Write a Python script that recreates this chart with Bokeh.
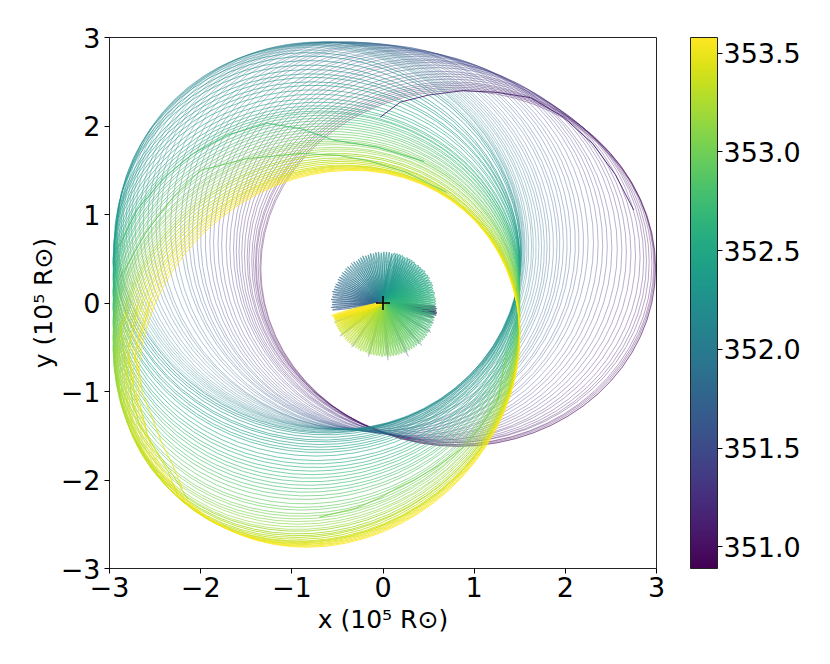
from bokeh.plotting import figure
from bokeh.models import ColumnDataSource, LinearColorMapper, ColorBar, FixedTicker, PrintfTickFormatter
from bokeh.palettes import Viridis256
from bokeh.embed import file_html
from bokeh.resources import INLINE
import math

times = [350.90,350.93,350.96,350.99,351.02,351.05,351.08,351.11,351.14,351.17,
         351.20,351.23,351.26,351.29,351.32,351.35,351.38,351.41,351.44,351.47,
         351.50,351.53,351.56,351.59,351.62,351.65,351.68,351.71,351.74,351.77,
         351.80,351.83,351.86,351.89,351.92,351.95,351.98,352.01,352.04,352.07,
         352.10,352.13,352.16,352.19,352.22,352.25,352.28,352.31,352.34,352.37,
         352.40,352.43,352.46,352.49,352.52,352.55,352.58,352.61,352.64,352.67,
         352.70,352.73,352.76,352.79,352.82,352.85,352.88,352.91,352.94,352.97,
         353.00,353.03,353.06,353.09,353.12,353.15,353.18,353.21,353.24,353.27,
         353.30,353.33,353.36,353.39,353.42,353.45,353.48,353.51,353.54,353.57]
left = [-1.34,-1.35,-1.37,-1.39,-1.40,-1.42,-1.44,-1.47,-1.49,-1.52,
        -1.55,-1.58,-1.61,-1.64,-1.68,-1.72,-1.77,-1.81,-1.86,-1.90,
        -1.95,-2.00,-2.04,-2.09,-2.13,-2.18,-2.22,-2.28,-2.33,-2.39,
        -2.45,-2.49,-2.54,-2.58,-2.63,-2.67,-2.72,-2.76,-2.79,-2.82,
        -2.85,-2.87,-2.89,-2.91,-2.92,-2.93,-2.94,-2.95,-2.95,-2.95,
        -2.96,-2.96,-2.96,-2.96,-2.96,-2.96,-2.96,-2.96,-2.96,-2.96,
        -2.96,-2.96,-2.96,-2.96,-2.96,-2.96,-2.96,-2.96,-2.96,-2.96,
        -2.96,-2.96,-2.96,-2.96,-2.95,-2.95,-2.94,-2.93,-2.92,-2.91,
        -2.90,-2.88,-2.86,-2.84,-2.82,-2.80,-2.77,-2.74,-2.71,-2.68]
right = [2.99,2.99,2.98,2.97,2.95,2.92,2.89,2.86,2.82,2.77,
         2.72,2.67,2.62,2.57,2.51,2.46,2.41,2.36,2.31,2.25,
         2.20,2.15,2.11,2.06,2.02,1.98,1.94,1.91,1.87,1.83,
         1.80,1.77,1.74,1.71,1.68,1.65,1.63,1.60,1.58,1.56,
         1.55,1.54,1.53,1.52,1.52,1.51,1.51,1.50,1.50,1.50,
         1.50,1.50,1.50,1.50,1.50,1.50,1.50,1.50,1.50,1.50,
         1.50,1.50,1.50,1.50,1.50,1.50,1.50,1.50,1.50,1.50,
         1.50,1.50,1.50,1.50,1.50,1.50,1.50,1.50,1.50,1.50,
         1.50,1.50,1.50,1.50,1.50,1.50,1.50,1.50,1.50,1.50]
bottom = [-1.62,-1.62,-1.61,-1.60,-1.60,-1.58,-1.58,-1.57,-1.56,-1.55,
          -1.55,-1.54,-1.53,-1.52,-1.52,-1.51,-1.50,-1.50,-1.49,-1.48,
          -1.48,-1.47,-1.47,-1.46,-1.46,-1.45,-1.45,-1.45,-1.45,-1.44,
          -1.44,-1.44,-1.43,-1.43,-1.43,-1.43,-1.43,-1.43,-1.43,-1.43,
          -1.43,-1.44,-1.44,-1.45,-1.46,-1.47,-1.49,-1.52,-1.55,-1.57,
          -1.60,-1.63,-1.66,-1.69,-1.73,-1.78,-1.82,-1.86,-1.90,-1.94,
          -1.98,-2.02,-2.06,-2.10,-2.14,-2.18,-2.22,-2.27,-2.31,-2.34,
          -2.38,-2.41,-2.44,-2.47,-2.50,-2.53,-2.56,-2.58,-2.61,-2.63,
          -2.65,-2.67,-2.69,-2.70,-2.71,-2.72,-2.73,-2.74,-2.75,-2.76]
top = [2.40,2.42,2.44,2.46,2.48,2.50,2.53,2.56,2.59,2.62,
       2.66,2.69,2.72,2.74,2.76,2.79,2.81,2.83,2.85,2.86,
       2.88,2.89,2.91,2.92,2.92,2.93,2.94,2.94,2.95,2.95,
       2.95,2.95,2.95,2.95,2.95,2.95,2.95,2.95,2.94,2.93,
       2.92,2.91,2.89,2.86,2.83,2.79,2.74,2.69,2.64,2.59,
       2.55,2.50,2.46,2.41,2.36,2.31,2.27,2.23,2.20,2.17,
       2.15,2.12,2.09,2.06,2.03,2.00,1.97,1.94,1.91,1.88,
       1.85,1.83,1.81,1.79,1.76,1.74,1.72,1.69,1.67,1.64,
       1.62,1.60,1.58,1.56,1.55,1.54,1.53,1.52,1.51,1.50]
lean = [0.00,0.00,0.00,0.00,0.00,0.00,0.00,0.00,0.00,0.00,
        0.00,0.00,0.00,0.00,0.00,0.00,0.00,0.00,0.00,0.00,
       -0.01,-0.01,-0.02,-0.02,-0.03,-0.03,-0.04,-0.04,-0.05,-0.05,
       -0.05,-0.06,-0.06,-0.06,-0.06,-0.06,-0.06,-0.06,-0.06,-0.06,
       -0.06,-0.06,-0.05,-0.05,-0.05,-0.04,-0.04,-0.04,-0.03,-0.03,
       -0.02,-0.02,-0.01,-0.01,0.00,0.00,0.01,0.01,0.02,0.02,
        0.03,0.03,0.04,0.04,0.05,0.05,0.06,0.06,0.07,0.07,
        0.08,0.08,0.09,0.09,0.09,0.10,0.10,0.10,0.10,0.10,
        0.11,0.11,0.11,0.11,0.12,0.12,0.12,0.12,0.12,0.12]

# individual traces that stand out: jagged left stretches and bold crossing arcs
mark_times = [353.50, 353.42, 353.30, 352.95, 352.80, 353.05, 351.15]
mark_x = [[-2.55,-2.60,-2.68,-2.72,-2.66,-2.64,-2.55,-2.42,-2.32,-2.20],
          [-2.68,-2.74,-2.80,-2.76,-2.72,-2.64,-2.58,-2.45,-2.36,-2.25],
          [-2.80,-2.88,-2.84,-2.78,-2.74,-2.66,-2.52,-2.40,-2.30,-2.14],
          [-2.88,-2.60,-2.30,-2.00,-1.50,-0.90,-0.50,-0.17,0.25,0.70],
          [-2.90,-2.70,-2.40,-2.08,-1.70,-1.27,-0.90,-0.54,-0.06,0.45],
          [1.36,1.26,1.08,0.88,0.62,0.34,0.14,-0.03,-0.30,-0.70],
          [-0.03,0.19,0.50,0.88,1.25,1.62,1.98,2.30,2.55,2.75]]
mark_y = [[0.05,-0.16,-0.40,-0.62,-0.85,-1.02,-1.25,-1.60,-1.80,-2.10],
          [0.00,-0.25,-0.55,-0.80,-1.05,-1.25,-1.50,-1.75,-1.90,-2.18],
          [-0.10,-0.30,-0.60,-0.90,-1.15,-1.40,-1.62,-1.80,-1.95,-2.22],
          [0.29,0.80,1.20,1.50,1.63,1.69,1.67,1.61,1.48,1.25],
          [0.63,1.05,1.42,1.69,1.90,2.03,1.97,1.84,1.76,1.60],
          [-0.54,-1.10,-1.38,-1.63,-1.83,-2.00,-2.10,-2.20,-2.32,-2.42],
          [2.10,2.27,2.35,2.40,2.38,2.32,2.10,1.80,1.45,1.05]]

ray_times = [350.90,350.94,350.98,351.02,351.06,351.10,351.14,351.18,351.22,351.26,
             351.30,351.34,351.38,351.42,351.46,351.50,351.54,351.58,351.62,351.66,
 351.700,351.715,351.730,351.745,351.760,351.775,351.790,351.805,351.820,351.835,
 351.850,351.865,351.880,351.895,351.910,351.925,351.940,351.955,351.970,351.985,
 352.000,352.015,352.030,352.045,352.060,352.075,352.090,352.105,352.120,352.135,
 352.150,352.165,352.180,352.195,352.210,352.225,352.240,352.255,352.270,352.285,
 352.300,352.315,352.330,352.345,352.360,352.375,352.390,352.405,352.420,352.435,
 352.450,352.465,352.480,352.495,352.510,352.525,352.540,352.555,352.570,352.585,
 352.600,352.615,352.630,352.645,352.660,352.675,352.690,352.705,352.720,352.735,
 352.750,352.765,352.780,352.795,352.810,352.825,352.840,352.855,352.870,352.885,
 352.900,352.915,352.930,352.945,352.960,352.975,352.990,353.005,353.020,353.035,
 353.050,353.065,353.080,353.095,353.110,353.125,353.140,353.155,353.170,353.185,
 353.200,353.215,353.230,353.245,353.260,353.275,353.290,353.305,353.320,353.335,
 353.350,353.365,353.380,353.395,353.410,353.425,353.440,353.455,353.470,353.485,
 353.500,353.515,353.530,353.545,353.560,353.575]
ray_angle = [-4,-6,-8,-9,-10,-10,-11,-11,-12,-13,-16,-22,-32,-48,-65,-85,-105,-125,-142,-158,
 -172,-175,-178,-181,-184,-187,-190,-193,-196,-199,
 -202,-205,-208,-211,-214,-217,-220,-223,-226,-229,
 -232,-235,-238,-241,-244,-247,-250,-253,-256,-259,
 -262,-265,-268,-271,-274,-277,-280,-283,-286,-289,
 -292,-295,-298,-301,-304,-307,-310,-313,-316,-319,
 -322,-325,-328,-331,-334,-337,-340,-343,-346,-349,
 -352,-355,-358,-361,-364,-367,-370,-373,-376,-379,
 -382,-385,-388,-391,-394,-397,-400,-403,-406,-409,
 -412,-415,-418,-421,-424,-427,-430,-433,-436,-439,
 -442,-445,-448,-451,-454,-457,-460,-463,-466,-469,
 -472,-475,-478,-481,-484,-487,-490,-493,-496,-499,
 -502,-504,-506,-508,-510,-512,-514,-516,-518,-520,
 -521,-522,-523,-524,-525,-526]
ray_radius = [0.58,0.59,0.59,0.58,0.60,0.58,0.59,0.60,0.58,0.60,0.58,0.60,0.62,0.64,0.66,0.64,0.62,0.60,0.60,0.58,
 0.56,0.57,0.56,0.56,0.57,0.56,0.56,0.57,0.56,0.56,
 0.56,0.55,0.56,0.56,0.55,0.56,0.55,0.56,0.56,0.55,
 0.56,0.56,0.55,0.56,0.56,0.57,0.56,0.56,0.57,0.56,
 0.57,0.57,0.56,0.57,0.57,0.57,0.56,0.57,0.57,0.57,
 0.57,0.56,0.57,0.57,0.57,0.57,0.56,0.57,0.57,0.57,
 0.58,0.57,0.58,0.58,0.57,0.58,0.58,0.57,0.57,0.58,
 0.57,0.58,0.58,0.58,0.58,0.58,0.59,0.58,0.59,0.59,
 0.59,0.59,0.59,0.60,0.59,0.60,0.60,0.60,0.60,0.60,
 0.60,0.60,0.60,0.60,0.60,0.60,0.60,0.60,0.60,0.60,
 0.60,0.60,0.59,0.60,0.59,0.59,0.59,0.59,0.59,0.58,
 0.58,0.59,0.58,0.58,0.58,0.58,0.58,0.58,0.58,0.57,
 0.58,0.57,0.57,0.57,0.57,0.57,0.57,0.57,0.57,0.56,
 0.56,0.56,0.56,0.56,0.57,0.58]
x_ticks = [-3,-2,-1,0,1,2,3]
y_ticks = [-3,-2,-1,0,1,2,3]
cbar_ticks = [351.0,351.5,352.0,352.5,353.0,353.5]
time_low, time_high = 350.89, 353.58
FRAME_W, FRAME_H = 547, 531

mapper = LinearColorMapper(palette=Viridis256, low=time_low, high=time_high)
colour = {"field": "t", "transform": mapper}

p = figure(frame_width=FRAME_W, frame_height=FRAME_H, x_range=(-3,3), y_range=(-3,3),
           output_backend="svg", toolbar_location=None,
           min_border_left=109, min_border_top=37, min_border_right=166, min_border_bottom=0,
           background_fill_color="white", border_fill_color="white")
p.grid.visible = False
p.outline_line_color = "#222222"
p.outline_line_width = 1

px, py = FRAME_W/6, FRAME_H/6
maj, mnr, tilt = [], [], []
for l, r, b, t, k in zip(left, right, bottom, top, lean):
    X, Y = (r-l)/2*px, (t-b)/2*py
    c = k*X*Y
    s = math.hypot((X*X-Y*Y)/2, c)
    maj.append(2*math.sqrt((X*X+Y*Y)/2+s))
    mnr.append(2*math.sqrt((X*X+Y*Y)/2-s))
    tilt.append(0.5*math.atan2(2*c, X*X-Y*Y))

src = ColumnDataSource(dict(
    t=times,
    cx=[(a+b)/2 for a,b in zip(left,right)],
    cy=[(a+b)/2 for a,b in zip(bottom,top)],
    w=maj, h=mnr, a=tilt,
    alpha=[0.42 if v < 352.2 else 0.7 if v < 353.2 else 0.95 for v in times],
))
p.ellipse(x="cx", y="cy", width="w", height="h", angle="a", source=src, fill_color=None,
          width_units="screen", height_units="screen",
          line_color=colour, line_alpha="alpha", line_width=0.9)

p.multi_line(xs="xs", ys="ys", source=ColumnDataSource(dict(t=mark_times, xs=mark_x, ys=mark_y)),
             line_color=colour, line_alpha=0.9, line_width=1.0)

ang = [math.radians(a) for a in ray_angle]
inner = ColumnDataSource(dict(
    t=ray_times,
    cx=[r/2*math.cos(a) for r,a in zip(ray_radius,ang)],
    cy=[r/2*math.sin(a) for r,a in zip(ray_radius,ang)],
    w=ray_radius, a=ang,
    h=[0.02 if v < 352.25 else 0.07 if v < 352.7 else 0.045 if v < 353.2 else 0.035 for v in ray_times],
    alpha=[0.18 if 351.3 < v < 351.7 else 0.7 for v in ray_times],
))
p.ellipse(x="cx", y="cy", width="w", height="h", angle="a", source=inner,
          fill_color=colour, fill_alpha=0.3, line_color=colour, line_alpha="alpha", line_width=0.9)

p.scatter([0],[0], marker="cross", size=14, fill_color=None, line_color="black", line_width=1.6)

minus = lambda v: str(v).replace("-", "\u2212")
for ax, ticks in ((p.xaxis[0], x_ticks), (p.yaxis[0], y_ticks)):
    ax.ticker = FixedTicker(ticks=ticks)
    ax.major_label_overrides = {v: minus(v) for v in ticks}
    ax.major_label_text_font = "DejaVu Sans"
    ax.major_label_text_font_size = "27px"
    ax.major_label_text_color = "black"
    ax.major_tick_in = 0
    ax.major_tick_out = 5
    ax.minor_tick_line_color = None
    ax.major_tick_line_color = "black"
    ax.axis_line_color = "#222222"
    ax.axis_label_text_font = "DejaVu Sans"
    ax.axis_label_text_font_size = "25px"
    ax.axis_label_text_font_style = "normal"
    ax.axis_label_text_color = "black"
p.xaxis[0].axis_label = "x (10\u2075 R\u2299)"
p.yaxis[0].axis_label = "y (10\u2075 R\u2299)"
p.xaxis[0].axis_label_standoff = 5
p.yaxis[0].axis_label_standoff = 0
p.xaxis[0].major_label_standoff = 3
p.yaxis[0].major_label_standoff = 4

cb = ColorBar(color_mapper=mapper, width=27, height=531, location=(581, 0), padding=0, margin=0,
              ticker=FixedTicker(ticks=cbar_ticks), formatter=PrintfTickFormatter(format="%.1f"),
              major_label_text_font="DejaVu Sans", major_label_text_font_size="27px",
              major_label_text_color="black", major_tick_in=0, major_tick_out=5,
              major_tick_line_color="black", minor_tick_line_color=None,
              bar_line_color="#222222", bar_line_width=1, label_standoff=1,
              background_fill_color=None)
p.add_layout(cb, "center")

open("out.html", "w").write(file_html(p, INLINE))
